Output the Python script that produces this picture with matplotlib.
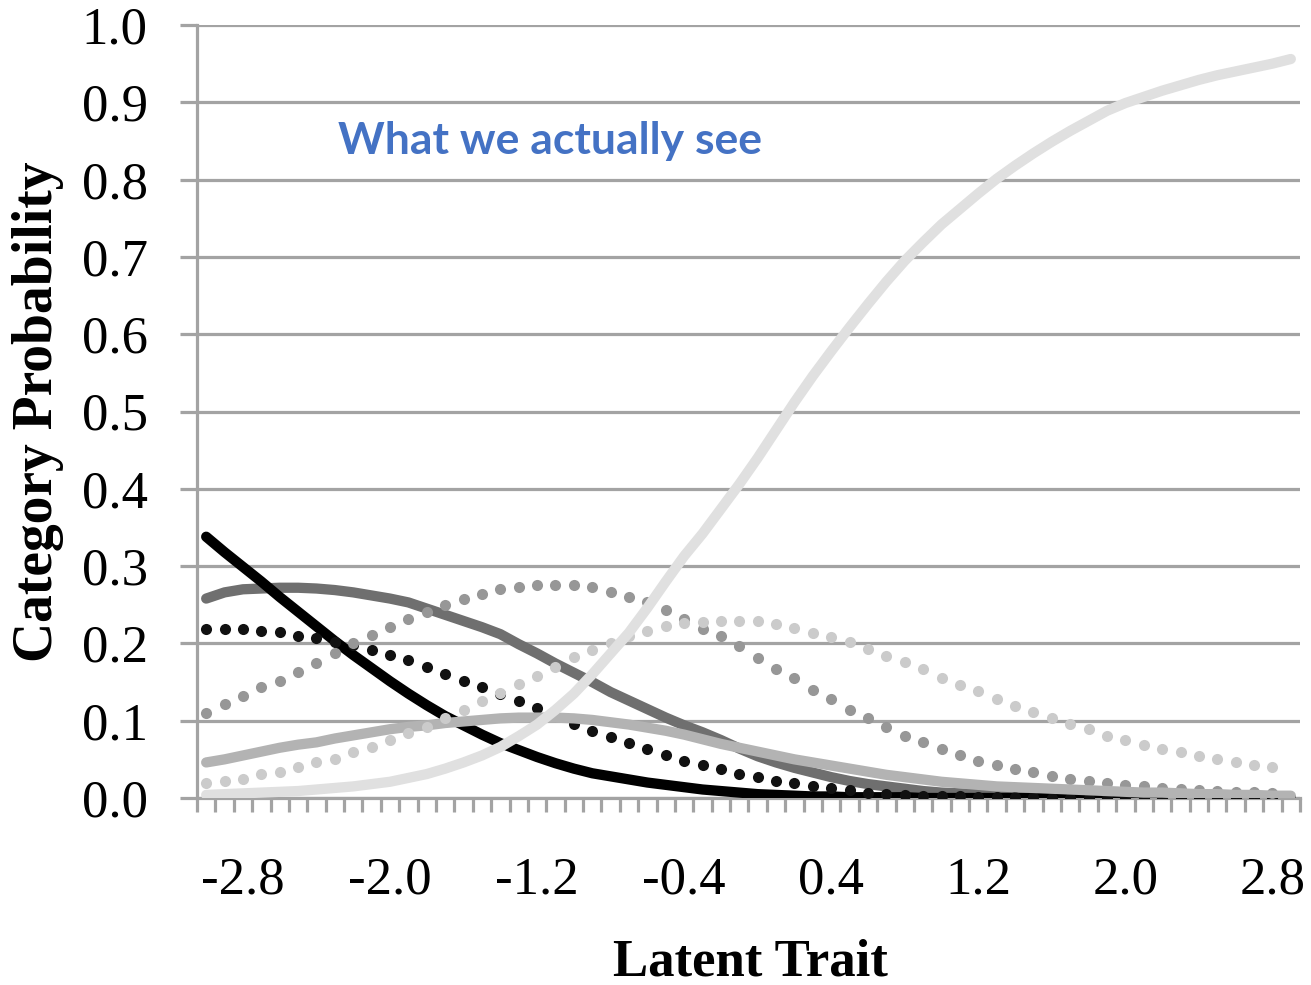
import numpy as np
import matplotlib
matplotlib.use("Agg")
import matplotlib.pyplot as plt
from matplotlib.ticker import FixedLocator, FormatStrFormatter

plt.rcParams['axes.unicode_minus'] = False

# ---------------- data ----------------
theta = [-3.0, -2.9, -2.8, -2.7, -2.6, -2.5, -2.4, -2.3, -2.2, -2.1,
         -2.0, -1.9, -1.8, -1.7, -1.6, -1.5, -1.4, -1.3, -1.2, -1.1,
         -1.0, -0.9, -0.8, -0.7, -0.6, -0.5, -0.4, -0.3, -0.2, -0.1,
         0.0, 0.1, 0.2, 0.3, 0.4, 0.5, 0.6, 0.7, 0.8, 0.9,
         1.0, 1.1, 1.2, 1.3, 1.4, 1.5, 1.6, 1.7, 1.8, 1.9,
         2.0, 2.1, 2.2, 2.3, 2.4, 2.5, 2.6, 2.7, 2.8, 2.9]

x_tick_labels = [-2.8, -2.0, -1.2, -0.4, 0.4, 1.2, 2.0, 2.8]
y_ticks = [0.0, 0.1, 0.2, 0.3, 0.4, 0.5, 0.6, 0.7, 0.8, 0.9, 1.0]

cat1_black_solid = [0.338, 0.318, 0.299, 0.280, 0.260, 0.241, 0.222, 0.203, 0.185, 0.168,
                    0.151, 0.135, 0.120, 0.106, 0.094, 0.082, 0.071, 0.062, 0.053, 0.045,
                    0.038, 0.032, 0.028, 0.024, 0.020, 0.017, 0.014, 0.011, 0.009, 0.007,
                    0.005, 0.004, 0.003, 0.002, 0.002, 0.001, 0.001, 0.001, 0.001, 0.0,
                    0.0, 0.0, 0.0, 0.0, 0.0, 0.0, 0.0, 0.0, 0.0, 0.0,
                    0.0, 0.0, 0.0, 0.0, 0.0, 0.0, 0.0, 0.0, 0.0, 0.0]

cat2_black_dots = [0.219, 0.219, 0.219, 0.216, 0.215, 0.210, 0.207, 0.202, 0.198, 0.192,
                   0.185, 0.178, 0.170, 0.161, 0.152, 0.143, 0.134, 0.125, 0.116, 0.106,
                   0.096, 0.087, 0.079, 0.071, 0.063, 0.055, 0.048, 0.043, 0.037, 0.031,
                   0.027, 0.022, 0.019, 0.016, 0.013, 0.010, 0.007, 0.005, 0.004, 0.003,
                   0.002, 0.002, 0.001, 0.001, 0.001, 0.001, 0.0, 0.0, 0.0, 0.0,
                   0.0, 0.0, 0.0, 0.0, 0.0, 0.0, 0.0, 0.0, 0.0, np.nan]

cat3_dark_solid = [0.258, 0.266, 0.270, 0.271, 0.272, 0.272, 0.271, 0.269, 0.266, 0.262,
                   0.258, 0.253, 0.245, 0.237, 0.229, 0.221, 0.212, 0.199, 0.187, 0.174,
                   0.162, 0.150, 0.137, 0.126, 0.115, 0.104, 0.094, 0.085, 0.075, 0.064,
                   0.054, 0.046, 0.039, 0.033, 0.027, 0.022, 0.018, 0.015, 0.012, 0.009,
                   0.007, 0.006, 0.005, 0.003, 0.002, 0.002, 0.001, 0.001, 0.001, 0.001,
                   0.0, 0.0, 0.0, 0.0, 0.0, 0.0, 0.0, 0.0, 0.0, 0.0]

cat4_mid_dots = [0.110, 0.121, 0.132, 0.143, 0.152, 0.163, 0.175, 0.187, 0.200, 0.211,
                 0.221, 0.231, 0.241, 0.250, 0.258, 0.264, 0.270, 0.273, 0.276, 0.276,
                 0.276, 0.273, 0.267, 0.260, 0.254, 0.243, 0.232, 0.219, 0.209, 0.196,
                 0.181, 0.167, 0.155, 0.140, 0.128, 0.114, 0.104, 0.092, 0.080, 0.072,
                 0.063, 0.056, 0.048, 0.043, 0.037, 0.033, 0.028, 0.025, 0.022, 0.019,
                 0.017, 0.015, 0.013, 0.012, 0.010, 0.009, 0.008, 0.008, 0.007, np.nan]

cat5_light_solid = [0.046, 0.050, 0.055, 0.060, 0.065, 0.069, 0.072, 0.077, 0.081, 0.085,
                    0.089, 0.092, 0.094, 0.097, 0.099, 0.101, 0.103, 0.104, 0.104, 0.104,
                    0.103, 0.101, 0.098, 0.095, 0.091, 0.087, 0.082, 0.076, 0.070, 0.065,
                    0.060, 0.055, 0.050, 0.046, 0.042, 0.038, 0.034, 0.030, 0.027, 0.024,
                    0.021, 0.019, 0.017, 0.015, 0.014, 0.013, 0.012, 0.011, 0.010, 0.009,
                    0.008, 0.007, 0.007, 0.006, 0.005, 0.005, 0.004, 0.004, 0.003, 0.003]

cat6_light_dots = [0.019, 0.022, 0.025, 0.031, 0.034, 0.040, 0.046, 0.051, 0.060, 0.066,
                   0.075, 0.084, 0.092, 0.104, 0.114, 0.125, 0.136, 0.147, 0.158, 0.170,
                   0.182, 0.191, 0.201, 0.209, 0.216, 0.223, 0.227, 0.228, 0.229, 0.229,
                   0.229, 0.225, 0.220, 0.213, 0.208, 0.202, 0.193, 0.184, 0.176, 0.167,
                   0.155, 0.146, 0.138, 0.128, 0.119, 0.111, 0.104, 0.096, 0.089, 0.080,
                   0.075, 0.069, 0.063, 0.060, 0.054, 0.051, 0.046, 0.043, 0.040, np.nan]

cat7_top_solid = [0.004, 0.005, 0.006, 0.007, 0.008, 0.009, 0.011, 0.013, 0.015, 0.018,
                  0.021, 0.026, 0.031, 0.038, 0.046, 0.055, 0.066, 0.080, 0.095, 0.114,
                  0.135, 0.160, 0.187, 0.214, 0.246, 0.280, 0.313, 0.342, 0.374, 0.406,
                  0.440, 0.476, 0.512, 0.546, 0.578, 0.609, 0.639, 0.668, 0.695, 0.719,
                  0.742, 0.762, 0.782, 0.801, 0.818, 0.834, 0.849, 0.863, 0.876, 0.889,
                  0.899, 0.907, 0.915, 0.922, 0.929, 0.935, 0.940, 0.945, 0.950, 0.956]

# ---------------- figure ----------------
W, H = 1311, 985
fig = plt.figure(figsize=(W / 100, H / 100), dpi=100)
ax = fig.add_axes([197 / W, 1 - 798 / H, (1300 - 197) / W, (798 - 25) / H])

grid_c = '#a3a3a3'
glw = 2.3
LW = 7.4
MS = 8.0

ax.plot(theta, cat3_dark_solid, color='#6f6f6f', lw=LW, solid_capstyle='round', zorder=3)
ax.plot(theta, cat1_black_solid, color='#000000', lw=LW, solid_capstyle='round', zorder=4)
ax.plot(theta, cat2_black_dots, ls='none', marker='o', ms=MS, mew=0, color='#111111', zorder=5)
ax.plot(theta, cat4_mid_dots, ls='none', marker='o', ms=MS, mew=0, color='#979797', zorder=6)
ax.plot(theta, cat5_light_solid, color='#b3b3b3', lw=LW, solid_capstyle='round', zorder=6.5)
ax.plot(theta, cat6_light_dots, ls='none', marker='o', ms=MS, mew=0, color='#cbcbcb', zorder=7)
ax.plot(theta, cat7_top_solid, color='#e0e0e0', lw=LW, solid_capstyle='round', zorder=8)

step = theta[1] - theta[0]
ax.set_xlim(theta[0] - step / 2, theta[-1] + step / 2)
ax.set_ylim(0, 1.0)

# y axis
ax.yaxis.set_major_locator(FixedLocator(y_ticks))
ax.yaxis.set_major_formatter(FormatStrFormatter('%.1f'))
ax.yaxis.grid(True, color=grid_c, lw=glw, zorder=1)
ax.set_axisbelow(True)
ax.tick_params(axis='y', which='major', direction='out', length=12.5, width=glw,
               color=grid_c, pad=23, labelsize=38)

# x axis: category boundaries as minor ticks, labels at selected categories
bounds = [t - step / 2 for t in theta] + [theta[-1] + step / 2]
ax.xaxis.set_minor_locator(FixedLocator(bounds))
ax.xaxis.set_major_locator(FixedLocator(x_tick_labels))
ax.xaxis.set_major_formatter(FormatStrFormatter('%.1f'))
ax.tick_params(axis='x', which='minor', direction='out', length=10, width=glw, color=grid_c)
ax.tick_params(axis='x', which='major', length=0, pad=42, labelsize=38)

for lab in ax.get_xticklabels() + ax.get_yticklabels():
    lab.set_fontfamily('Liberation Serif')

for s in ['top', 'right']:
    ax.spines[s].set_visible(False)
for s in ['left', 'bottom']:
    ax.spines[s].set_color(grid_c)
    ax.spines[s].set_linewidth(glw)
    ax.spines[s].set_zorder(2)

fig.text(38 / W, 1 - 412 / H, 'Category Probability', rotation=90, ha='center', va='center',
         fontsize=40, fontweight='bold', family='Liberation Serif')
fig.text(750 / W, 1 - 962 / H, 'Latent Trait', ha='center', va='center',
         fontsize=38, fontweight='bold', family='Liberation Serif')
fig.text(550 / W, 1 - 141 / H, 'What we actually see', ha='center', va='center',
         fontsize=32, fontweight='bold', family='Lato', color='#4472C4')

fig.savefig('out.png', dpi=100)
